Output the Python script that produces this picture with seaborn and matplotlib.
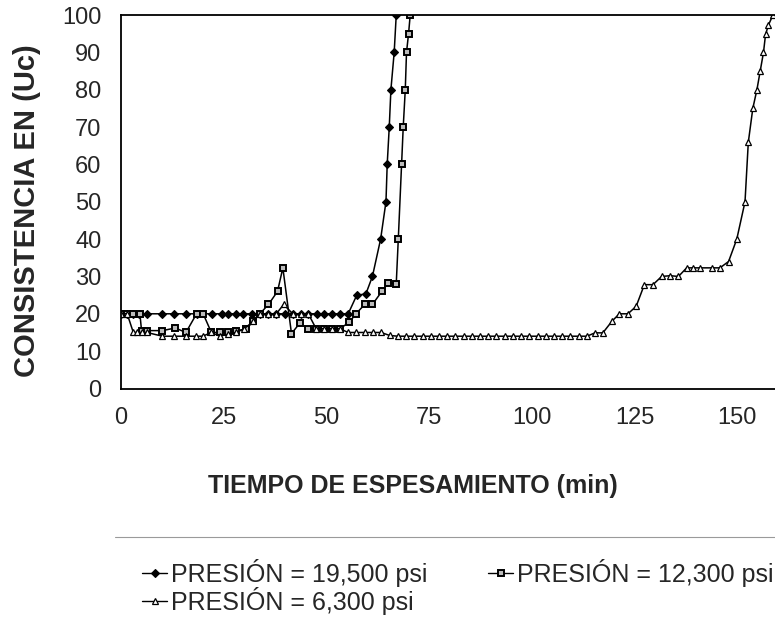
import numpy as np
import pandas as pd
import matplotlib
matplotlib.use("Agg")
import matplotlib.pyplot as plt
from matplotlib.lines import Line2D
import seaborn as sns

# ---- data ----
t_19500 = [0, 1.5, 3, 4.5, 6.3, 10.1, 13.0, 15.8, 18.4, 22.2,
           24.5, 26.1, 27.9, 29.8, 31.8, 33.8, 35.8, 37.8, 39.8, 41.8,
           43.7, 45.6, 47.6, 49.5, 51.3, 53.3, 55.3,
           57.4, 59.6, 61.2, 63.2, 64.5, 64.8, 65.3, 65.7, 66.5, 67.0]
u_19500 = [20, 20, 20, 20, 20, 20, 20, 20, 20, 20,
           20, 20, 20, 20, 20, 20, 20, 20, 20, 20,
           20, 20, 20, 20, 20, 20, 20,
           25, 25.3, 30, 40, 50, 60, 70, 80, 90, 100]

t_12300 = [0, 1.5, 3.0, 4.6, 5.0, 6.3, 10.1, 13.2, 15.8, 18.4,
           20.0, 22.0, 24.0, 26.0, 28.0, 30.4, 32.2, 33.8, 35.9, 38.1,
           39.4, 41.5, 43.6, 45.4, 47.4, 49.4, 51.4, 53.3, 55.6, 57.2,
           59.4, 61.2, 63.5, 65.1, 67.0, 67.5, 68.3, 68.7, 69.2, 69.5,
           70.0, 70.4]
u_12300 = [20, 20, 20, 20, 15.5, 15.5, 15.5, 16.2, 15, 20,
           20, 15, 15, 15, 15.5, 15.8, 18, 20, 22.5, 26,
           32.3, 14.7, 17.6, 16, 16, 16, 16, 16, 17.8, 20,
           22.6, 22.5, 26, 28.3, 28, 40, 60, 70, 80, 90,
           95, 100]

t_6300 = [0, 1.5, 3.0, 3.8, 5.0, 6.3, 10.1, 13.0, 15.8, 18.2,
          19.9, 22.0, 24.0, 26.0, 28.0, 30.0, 32.2, 33.8, 35.8, 37.8,
          39.6, 41.8, 43.7, 45.6, 47.5, 49.5, 51.3, 53.3, 55.3, 57.3,
          59.3, 61.3, 63.3, 65.4,
          67.4, 69.4, 71.4, 73.4, 75.4, 77.4, 79.4, 81.4, 83.4, 85.4,
          87.4, 89.4, 91.4, 93.4, 95.4, 97.4, 99.4, 101.4, 103.4, 105.4,
          107.4, 109.4, 111.4, 113.4,
          115.4, 117.3, 119.5, 121.3, 123.4, 125.4, 127.4, 129.5, 131.6, 133.7,
          135.7, 137.7, 139.3, 141.0, 143.8, 145.8, 147.9, 149.9, 151.9, 152.7,
          153.8, 154.8, 155.6, 156.4, 156.9, 157.6, 158.7]
u_6300 = [20, 20, 15, 15, 15, 15, 14, 14, 14, 14,
          14, 15, 14, 14.5, 15, 16, 18, 20, 20, 20,
          22.5, 20, 20, 20, 16, 16, 16, 16, 15, 15,
          15, 15, 15, 14.2,
          14, 14, 14, 14, 14, 14, 14, 14, 14, 14,
          14, 14, 14, 14, 14, 14, 14, 14, 14, 14,
          14, 14, 14, 14,
          14.9, 14.9, 18, 20, 20, 22, 27.8, 27.8, 30, 30.2,
          30, 32.3, 32.3, 32.3, 32.3, 32.3, 34, 40, 50, 65.9,
          75, 80, 85, 90, 94.8, 97.3, 100]

labels = ["PRESIÓN = 19,500 psi", "PRESIÓN = 12,300 psi", "PRESIÓN = 6,300 psi"]
x_ticks = [0, 25, 50, 75, 100, 125, 150]
y_ticks = [0, 10, 20, 30, 40, 50, 60, 70, 80, 90, 100]

df = pd.concat([
    pd.DataFrame({"t": t_19500, "u": u_19500, "serie": labels[0]}),
    pd.DataFrame({"t": t_12300, "u": u_12300, "serie": labels[1]}),
    pd.DataFrame({"t": t_6300, "u": u_6300, "serie": labels[2]}),
], ignore_index=True)

# ---- style ----
sns.set_style("white")
plt.rcParams["font.family"] = ["Liberation Sans", "DejaVu Sans"]

styles = {
    labels[0]: dict(marker="D", markersize=3.6, markerfacecolor="black",
                    markeredgecolor="black", markeredgewidth=0.8),
    labels[1]: dict(marker="s", markersize=4.6, markerfacecolor="#bbbbbb",
                    markeredgecolor="black", markeredgewidth=1.4),
    labels[2]: dict(marker="^", markersize=4.6, markerfacecolor="white",
                    markeredgecolor="black", markeredgewidth=0.9),
}

fig = plt.figure(figsize=(7.75, 6.17), dpi=100)
ax = fig.add_axes([121 / 775, 1 - 388.5 / 617, (775 - 121) / 775, (388.5 - 15) / 617])

for lab in labels:
    sub = df[df["serie"] == lab]
    sns.lineplot(data=sub, x="t", y="u", ax=ax, color="black", linewidth=1.1,
                 estimator=None, sort=False, legend=False, **styles[lab])

ax.set_xlim(0, 159.2)
ax.set_ylim(0, 100)
ax.set_xticks(x_ticks)
ax.set_yticks(y_ticks)
ax.set_xticklabels([str(v) for v in x_ticks])
ax.set_yticklabels([str(v) for v in y_ticks])
ax.set_xlabel("")
ax.set_ylabel("")
ax.tick_params(axis="y", direction="in", length=3, width=0.8, pad=14, labelsize=17)
ax.tick_params(axis="x", direction="in", length=3, width=0.8, pad=13, labelsize=17)
for s in ["left", "bottom", "top"]:
    ax.spines[s].set_visible(True)
    ax.spines[s].set_color("black")
    ax.spines[s].set_linewidth(1.3)
ax.spines["right"].set_visible(False)
ax.grid(False)

fig.text(27 / 775, 1 - 210.5 / 617, "CONSISTENCIA EN (Uc)", rotation=90,
         ha="center", va="center", fontsize=21, fontweight="bold")
fig.text(412.5 / 775, 1 - 486 / 617, "TIEMPO DE ESPESAMIENTO (min)",
         ha="center", va="center", fontsize=18, fontweight="bold")

fig.add_artist(Line2D([115 / 775, 1.0], [1 - 537 / 617, 1 - 537 / 617],
                      transform=fig.transFigure, color="#9a9a9a", linewidth=0.8))

handles = [Line2D([], [], color="black", linewidth=1.0, **styles[lab]) for lab in labels]
order = [0, 2, 1]
fig.legend([handles[i] for i in order], [labels[i] for i in order],
           ncol=2, loc="upper left", bbox_to_anchor=(142 / 775, 1 - 559 / 617),
           frameon=False, handlelength=1.0, handletextpad=0.15, columnspacing=2.45,
           labelspacing=0.0, borderpad=0, borderaxespad=0,
           prop={"size": 18})

fig.savefig("out.png", dpi=100)
